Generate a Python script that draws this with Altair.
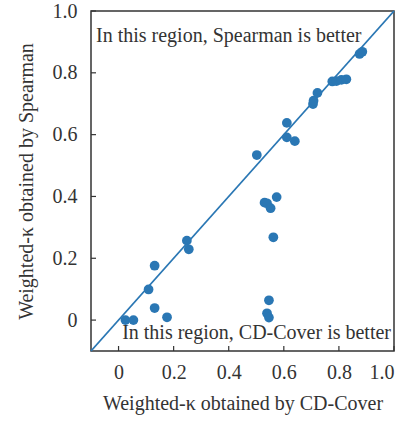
import altair as alt
import pandas as pd

cd_cover = [0.025, 0.054, 0.109, 0.131, 0.131, 0.176, 0.248, 0.255, 0.502, 0.530,
            0.539, 0.552, 0.574, 0.562, 0.546, 0.539, 0.546, 0.611, 0.611, 0.640,
            0.706, 0.708, 0.722, 0.776, 0.791, 0.809, 0.827, 0.875, 0.885]
spearman = [0.000, 0.000, 0.099, 0.176, 0.039, 0.009, 0.257, 0.229, 0.534, 0.380,
            0.378, 0.362, 0.398, 0.268, 0.064, 0.022, 0.008, 0.638, 0.591, 0.579,
            0.699, 0.710, 0.735, 0.772, 0.773, 0.777, 0.779, 0.861, 0.868]
diag = [-0.1, 1.0]
ticks = [0, 0.2, 0.4, 0.6, 0.8, 1.0]
upper_note = "In this region, Spearman is better"
lower_note = "In this region, CD-Cover is better"
x_title = "Weighted-κ obtained by CD-Cover"
y_title = "Weighted-κ obtained by Spearman"

FONT = "Liberation Serif"
BLUE = "#2a77b4"
TXT = "#333333"
W, H = 303, 340

pts = pd.DataFrame({"x": cd_cover, "y": spearman})
line_df = pd.DataFrame({"x": diag, "y": diag})
tick_df = pd.DataFrame({"t": ticks})

xs = alt.Scale(domain=[-0.1, 1.0], nice=False, zero=False)
ys = alt.Scale(domain=[-0.1, 1.0], nice=False, zero=False)
lab = "datum.value == 0 ? '0' : format(datum.value, '.1f')"

xaxis = alt.Axis(values=ticks, labelExpr=lab, labelPadding=11, title=x_title, titlePadding=11,
                 labelFont=FONT, titleFont=FONT)
yaxis = alt.Axis(values=ticks, labelExpr=lab, labelPadding=14, title=y_title, titlePadding=16,
                 labelFont=FONT, titleFont=FONT)

line = alt.Chart(line_df).mark_line(color=BLUE, strokeWidth=1.8).encode(
    x=alt.X("x:Q", scale=xs, axis=xaxis),
    y=alt.Y("y:Q", scale=ys, axis=yaxis),
)
points = alt.Chart(pts).mark_circle(color=BLUE, size=95, opacity=1).encode(
    x=alt.X("x:Q", scale=xs, axis=xaxis),
    y=alt.Y("y:Q", scale=ys, axis=yaxis),
)
xticks = alt.Chart(tick_df).mark_rule(color=TXT, strokeWidth=1.2).encode(
    x=alt.X("t:Q", scale=xs, axis=xaxis), y=alt.value(H), y2=alt.value(H - 5))
yticks = alt.Chart(tick_df).mark_rule(color=TXT, strokeWidth=1.2).encode(
    y=alt.Y("t:Q", scale=ys, axis=yaxis), x=alt.value(0), x2=alt.value(5))

up = alt.Chart(pd.DataFrame({"s": [upper_note]})).mark_text(
    font=FONT, fontSize=20, color=TXT, align="left", baseline="alphabetic").encode(
    text="s:N", x=alt.value(5), y=alt.value(31))
low = alt.Chart(pd.DataFrame({"s": [lower_note]})).mark_text(
    font=FONT, fontSize=20, color=TXT, align="right", baseline="alphabetic").encode(
    text="s:N", x=alt.value(300), y=alt.value(328))

chart = alt.layer(line, points, xticks, yticks, up, low).properties(
    width=W, height=H,
    autosize=alt.AutoSizeParams(type="none"),
    padding={"left": 91, "top": 11, "right": 15, "bottom": 74},
).configure(background="white", font=FONT).configure_view(
    stroke=TXT, strokeWidth=1.5
).configure_axis(
    grid=False, domain=False, tickSize=0,
    labelFont=FONT, labelFontSize=20, labelColor=TXT,
    titleFont=FONT, titleFontSize=20, titleFontWeight="normal", titleColor=TXT,
)

chart.save("out.html", embed_options={"renderer": "svg", "actions": False})
